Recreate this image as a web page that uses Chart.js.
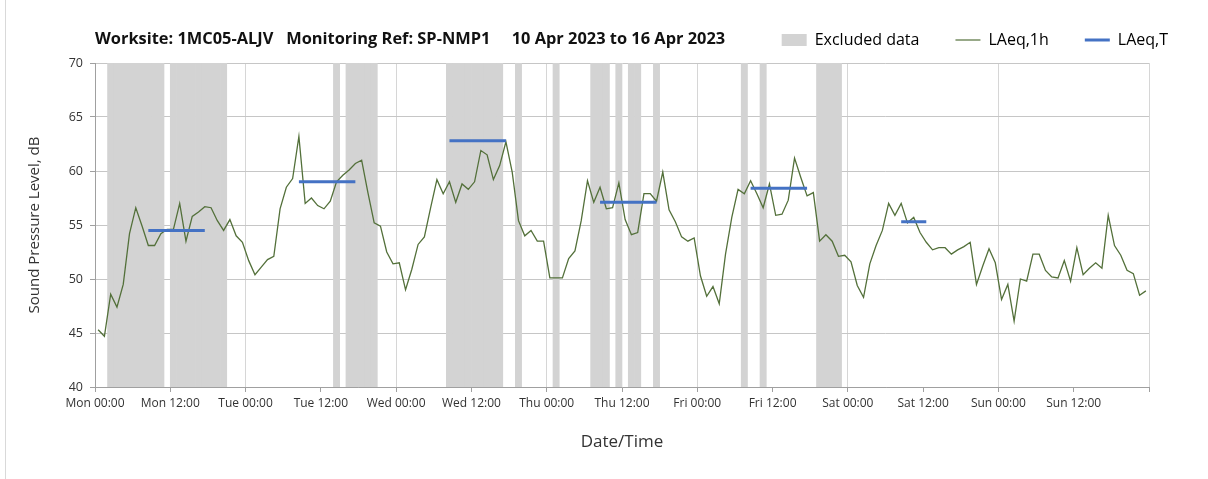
<!DOCTYPE html>
<html>
<head>
<meta charset="utf-8">
<script src="https://cdn.jsdelivr.net/npm/chart.js@4/dist/chart.umd.min.js"></script>
<style>
  body { margin: 0; background: #fff; }
  #wrap { position: relative; width: 1208px; height: 479px; }
  #frame { position: absolute; left: 5px; top: 0; width: 0; height: 479px; border-left: 1px solid #d9d9d9; }
  #title { position: absolute; left: 95px; top: 26px; font: bold 16.4px "Open Sans", sans-serif; color: #111; white-space: pre; }
</style>
</head>
<body>
<div id="wrap">
  <div id="frame"></div>
  <canvas id="c" width="1208" height="479"></canvas>
  <div id="title">Worksite: 1MC05-ALJV   Monitoring Ref: SP-NMP1     10 Apr 2023 to 16 Apr 2023</div>
</div>
<script>
// tick labels every 12 h, Mon 00:00 .. Sun 12:00
const tickLabels = ['Mon 00:00', 'Mon 12:00', 'Tue 00:00', 'Tue 12:00', 'Wed 00:00', 'Wed 12:00', 'Thu 00:00',
  'Thu 12:00', 'Fri 00:00', 'Fri 12:00', 'Sat 00:00', 'Sat 12:00', 'Sun 00:00', 'Sun 12:00'];

// hourly LAeq,1h from Mon 00:00 (168 hours)
const laeq1h = [
  45.3, 44.7, 48.6, 47.4, 49.5, 54.2, 56.6, 54.9, 53.1, 53.1, 54.2, 54.6, 54.6, 57.0, 53.5, 55.8, 56.2, 56.7, 56.6, 55.4, 54.5, 55.5, 54.0, 53.4,
  51.7, 50.4, 51.1, 51.8, 52.1, 56.5, 58.5, 59.3, 63.2, 57.0, 57.5, 56.8, 56.5, 57.2, 59.0, 59.6, 60.1, 60.7, 61.0, 58.0, 55.2, 54.9, 52.5, 51.4,
  51.5, 49.0, 50.9, 53.2, 53.9, 56.6, 59.2, 57.9, 59.0, 57.1, 58.8, 58.3, 59.0, 61.9, 61.5, 59.2, 60.5, 62.7, 59.9, 55.4, 54.0, 54.5, 53.5, 53.5,
  50.1, 50.1, 50.1, 51.9, 52.6, 55.4, 59.1, 57.1, 58.5, 56.5, 56.6, 58.9, 55.5, 54.1, 54.3, 57.9, 57.9, 57.2, 59.9, 56.4, 55.3, 53.9, 53.5, 53.8,
  50.3, 48.4, 49.3, 47.7, 52.3, 55.7, 58.3, 57.9, 59.1, 57.9, 56.6, 58.8, 55.9, 56.0, 57.3, 61.2, 59.4, 57.7, 58.0, 53.5, 54.1, 53.5, 52.1, 52.2,
  51.6, 49.4, 48.3, 51.4, 53.1, 54.5, 57.0, 55.9, 57.0, 55.2, 55.7, 54.3, 53.4, 52.7, 52.9, 52.9, 52.3, 52.7, 53.0, 53.4, 49.5, 51.2, 52.8, 51.5,
  48.1, 49.5, 46.1, 50.0, 49.8, 52.3, 52.3, 50.8, 50.2, 50.1, 51.7, 49.8, 52.9, 50.4, 51.0, 51.5, 51.0, 55.9, 53.1, 52.2, 50.8, 50.5, 48.5, 48.9
];

// LAeq,T periods (hours from Mon 00:00)
const periodFrom = [8.5, 32.5, 56.5, 80.5, 104.5, 128.5];
const periodTo = [17.5, 41.5, 65.5, 89.5, 113.5, 132.5];
const laeqT = [54.5, 59.0, 62.8, 57.1, 58.4, 55.3];

// excluded data, hour ranges
const excludedFrom = [2, 12, 38, 40, 56, 67, 73, 79, 83, 85, 89, 103, 106, 115];
const excludedTo = [11, 21, 39, 45, 65, 68, 74, 82, 84, 87, 90, 104, 107, 119];

const GREEN = '#53703a';
const BLUE = '#4472C4';
const GREY = '#d3d3d3';

const barData = [];
excludedFrom.forEach((s, i) => {
  for (let h = s; h < excludedTo[i]; h++) barData.push({x: h + 0.5, y: [40, 70]});
});
const lineData = laeq1h.map((v, i) => ({x: i + 0.5, y: v}));
const tData = [];
laeqT.forEach((v, i) => {
  tData.push({x: periodFrom[i], y: v}, {x: periodTo[i], y: v}, {x: periodTo[i], y: null});
});

const font = '"Open Sans", sans-serif';

// a bit more room under the legend row
const legendGap = {
  id: 'legendGap',
  afterInit(chart) {
    const lg = chart.legend;
    const fit = lg.fit;
    lg.fit = function () { fit.call(this); this.height += 5; };
  }
};

new Chart(document.getElementById('c'), {
  data: {
    datasets: [
      {
        type: 'bar', label: 'Excluded data', data: barData, backgroundColor: GREY,
        borderWidth: 0, barPercentage: 1, categoryPercentage: 1, order: 3
      },
      {
        type: 'line', label: 'LAeq,1h', data: lineData, borderColor: GREEN,
        borderWidth: 1.3, pointRadius: 0, tension: 0, order: 2
      },
      {
        type: 'line', label: 'LAeq,T', data: tData, borderColor: BLUE,
        borderWidth: 3, pointRadius: 0, spanGaps: false, order: 1
      }
    ]
  },
  plugins: [legendGap],
  options: {
    responsive: false,
    animation: false,
    layout: { padding: { left: 0, right: 4, top: -4, bottom: 0 } },
    plugins: {
      tooltip: { enabled: false },
      legend: {
        position: 'top',
        align: 'end',
        labels: {
          usePointStyle: true,
          pointStyleWidth: 25,
          boxHeight: 12,
          padding: 36,
          color: '#404040',
          font: { family: font, size: 16 },
          generateLabels: () => [
            { text: 'Excluded data', fillStyle: GREY, strokeStyle: GREY, lineWidth: 0, pointStyle: 'rect', datasetIndex: 0 },
            { text: 'LAeq,1h', fillStyle: GREEN, strokeStyle: GREEN, lineWidth: 1.2, pointStyle: 'line', datasetIndex: 1 },
            { text: 'LAeq,T', fillStyle: BLUE, strokeStyle: BLUE, lineWidth: 3, pointStyle: 'line', datasetIndex: 2 }
          ]
        }
      }
    },
    scales: {
      x: {
        type: 'linear',
        min: 0,
        max: 168,
        offset: false,
        afterFit: s => { s.height = 92; },
        border: { color: '#a0a0a0' },
        grid: {
          offset: false,
          color: c => (c.tick && c.tick.value % 24 === 0) ? '#d6d6d6' : 'rgba(0,0,0,0)',
          tickColor: '#a0a0a0',
          tickLength: 5
        },
        ticks: {
          stepSize: 12,
          autoSkip: false,
          maxRotation: 0,
          padding: 4,
          color: '#333',
          font: { family: font, size: 12 },
          callback: v => tickLabels[v / 12] || ''
        },
        title: {
          display: true,
          text: 'Date/Time',
          color: '#333',
          font: { family: font, size: 17 },
          padding: { top: 4, bottom: 27 }
        }
      },
      y: {
        min: 40,
        max: 70,
        z: 1,
        afterFit: s => { s.width = 95; },
        border: { color: '#a0a0a0' },
        grid: { color: '#c6c6c6', tickColor: '#a0a0a0', tickLength: 5 },
        ticks: {
          stepSize: 5,
          padding: 7,
          color: '#333',
          font: { family: font, size: 12.5 }
        },
        title: {
          display: true,
          text: 'Sound Pressure Level, dB',
          color: '#333',
          font: { family: font, size: 15 },
          padding: { top: 26, bottom: 0 }
        }
      },
      // empty right-hand strip so the plot stops short of the legend's right end
      yR: {
        position: 'right',
        min: 40,
        max: 70,
        afterFit: s => { s.width = 55; },
        grid: { display: false },
        border: { display: false },
        ticks: { display: false }
      }
    }
  }
});
</script>
</body>
</html>
